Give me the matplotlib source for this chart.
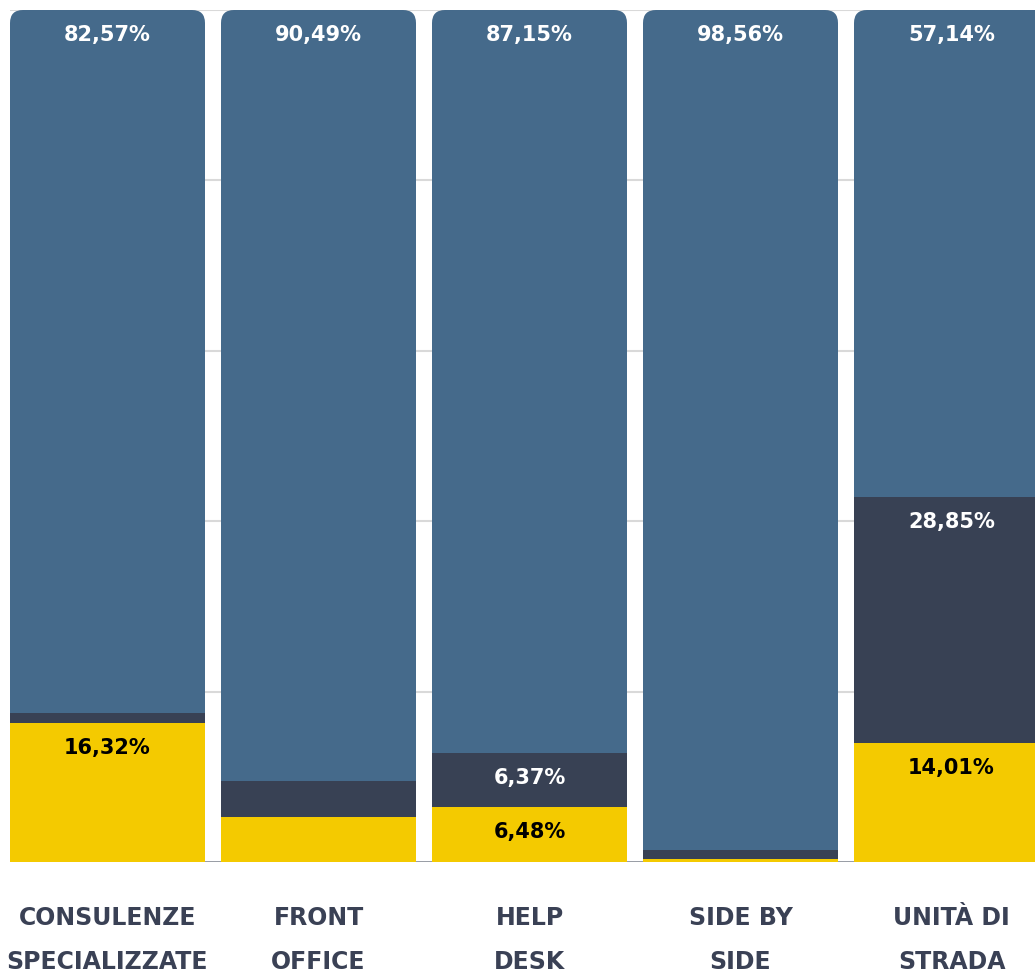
import matplotlib
matplotlib.use("Agg")
import matplotlib.pyplot as plt
from matplotlib.patches import FancyBboxPatch
from matplotlib.transforms import blended_transform_factory
from matplotlib import font_manager

categories = ["CONSULENZE\nSPECIALIZZATE", "FRONT\nOFFICE", "HELP\nDESK", "SIDE BY\nSIDE", "UNITÀ DI\nSTRADA"]
yellow_vals = [16.32, 5.25, 6.48, 0.35, 14.01]
dark_vals = [1.11, 4.26, 6.37, 1.09, 28.85]
blue_vals = [82.57, 90.49, 87.15, 98.56, 57.14]

C_YELLOW = "#F4CA00"
C_DARK = "#384154"
C_BLUE = "#456A8B"
C_TEXT = "#3A4155"

names = {f.name for f in font_manager.fontManager.ttflist}
FONT = "Liberation Sans Narrow" if "Liberation Sans Narrow" in names else "DejaVu Sans"

W, H = 1035, 976
fig = plt.figure(figsize=(W / 100, H / 100), dpi=100)
ax = fig.add_axes([10 / W, (H - 862) / H, (W - 10) / W, 852 / H])

bw = 195 / 211
x = list(range(len(categories)))
ax.set_xlim(-bw / 2, -bw / 2 + (W - 10) / 211)
ax.set_ylim(0, 100)

for gy in [20, 40, 60, 80, 100]:
    ax.axhline(gy, color="#D9D9D9", lw=1.5, zorder=0)
ax.axhline(0, color="#8E939C", lw=2, zorder=0)

b1 = ax.bar(x, yellow_vals, width=bw, color=C_YELLOW, zorder=2)
bottoms2 = yellow_vals
b2 = ax.bar(x, dark_vals, width=bw, bottom=bottoms2, color=C_DARK, zorder=2)
bottoms3 = [a + b for a, b in zip(yellow_vals, dark_vals)]
b3 = ax.bar(x, blue_vals, width=bw, bottom=bottoms3, color=C_BLUE, zorder=2)

# rounded top corners via clip path
px_per_x = 211.0
px_per_y = 852 / 100.0
r_px = 13
rx = r_px / px_per_x
aspect = (r_px / px_per_y) / rx
for i in range(len(x)):
    rect = b3[i]
    x0 = rect.get_x()
    clip = FancyBboxPatch((x0, -20), bw, 120, boxstyle=f"round,pad=0,rounding_size={rx}",
                          mutation_aspect=aspect, transform=ax.transData,
                          facecolor="none", edgecolor="none")
    for bars in (b1, b2, b3):
        bars[i].set_clip_path(clip)

off = 25 / px_per_y
fs = 15
for i in range(len(x)):
    segs = [(yellow_vals[i], 0, "black"),
            (dark_vals[i], yellow_vals[i], "white"),
            (blue_vals[i], bottoms3[i], "white")]
    for v, b, c in segs:
        if v >= 6:
            ax.text(x[i], b + v - off, f"{v:.2f}%".replace(".", ","), ha="center", va="center",
                    color=c, fontsize=fs, fontweight="bold", family=FONT, zorder=3)

tr = blended_transform_factory(ax.transData, fig.transFigure)
for i, lab in enumerate(categories):
    lines = lab.split("\n")
    for j, ln in enumerate(lines):
        ypx = 918 + 44 * j
        ax.text(x[i], 1 - ypx / H, ln, transform=tr, ha="center", va="center",
                color=C_TEXT, fontsize=17, fontweight="bold", family=FONT, clip_on=False)

ax.set_xticks([])
ax.set_yticks([])
for s in ax.spines.values():
    s.set_visible(False)

fig.savefig("out.png", dpi=100)
